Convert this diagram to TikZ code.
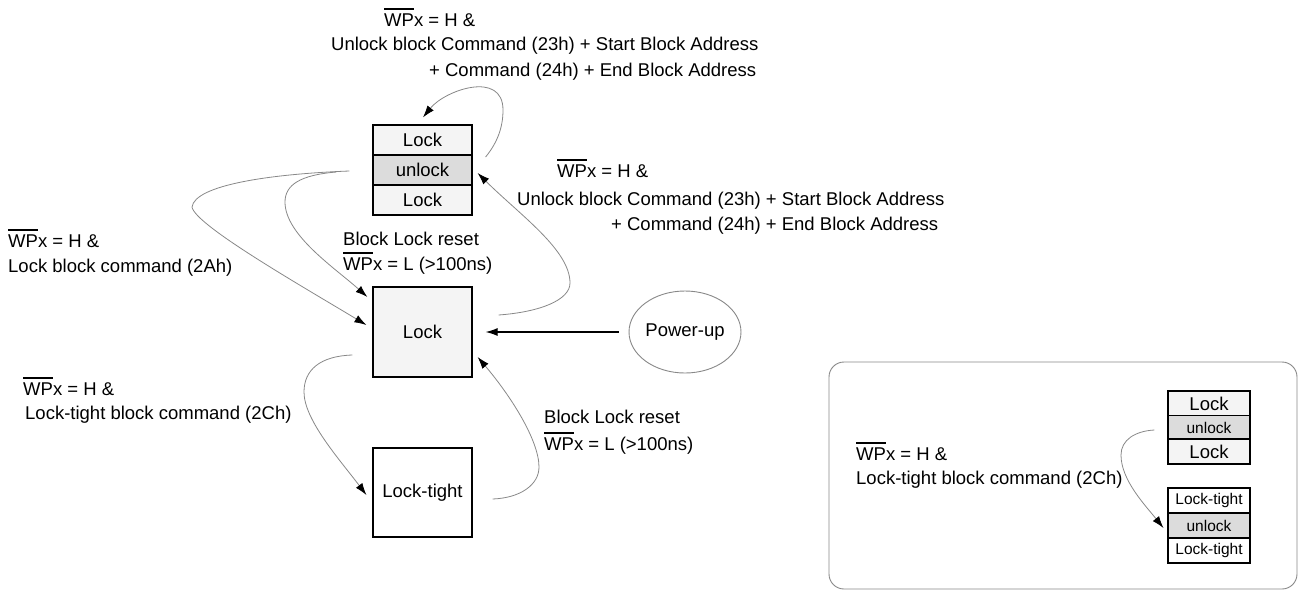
\documentclass[tikz,border=0pt]{standalone}
\usepackage{fontspec}
\setmainfont{Liberation Sans}
\usetikzlibrary{arrows.meta,calc,shapes.geometric}
\newcommand\fs{\fontsize{18.5}{22}\selectfont}
\newcommand\fss{\fontsize{15.5}{18}\selectfont}
\newcommand\wpbar{\setbox0\hbox{WP}\rlap{\rule[\dimexpr\ht0+3.5pt\relax]{\wd0}{1.5pt}}\box0{}x}
\definecolor{lockfill}{HTML}{F4F4F4}
\definecolor{unlockfill}{HTML}{DCDCDC}
\definecolor{curve}{HTML}{888888}
\tikzset{
  cell/.style={draw=black, line width=1.2pt, minimum width=99pt, minimum height=30pt, inner sep=0pt, font=\fs},
  scell/.style={draw=black, line width=1.1pt, minimum width=82pt, inner sep=0pt},
  lbl/.style={anchor=base west, inner sep=0pt, font=\fs},
  conn/.style={draw=curve, line width=0.8pt, -{Latex[length=12pt,width=8pt,color=black]}},
}
\begin{document}
\begin{tikzpicture}[x=1pt,y=-1pt]
\useasboundingbox (0,0) rectangle (1299,590);
% top stack
\node[cell, fill=lockfill] (ua) at (422.5,140) {Lock};
\node[cell, fill=unlockfill] (ub) at (422.5,170) {unlock};
\node[cell, fill=lockfill] (uc) at (422.5,200) {Lock};
% main states
\node[cell, fill=lockfill, minimum height=90pt] (lk) at (422.5,332) {Lock};
\node[cell, fill=white, minimum height=89pt] (lt) at (422.5,492.5) {Lock-tight};
\node[draw=curve, line width=0.9pt, ellipse, minimum width=108pt, minimum height=82pt, inner sep=0pt, font=\fs] (pu) at (685,332) {Power-up};
% labels
\node[lbl] (t1) at (384,26) {\wpbar{} = H \&};
\node[lbl] (t2) at (331,50) {Unlock block Command (23h) + Start Block Address};
\node[lbl] (t3) at (429,76) {+ Command (24h) + End Block Address};
\node[lbl] (m1) at (557,177) {\wpbar{} = H \&};
\node[lbl] (m2) at (517,205) {Unlock block Command (23h) + Start Block Address};
\node[lbl] (m3) at (611,230) {+ Command (24h) + End Block Address};
\node[lbl] (l1) at (8,247) {\wpbar{} = H \&};
\node[lbl] (l2) at (8,272) {Lock block command (2Ah)};
\node[lbl] (r1) at (343,245) {Block Lock reset};
\node[lbl] (r2) at (343,270) {\wpbar{} = L (>100ns)};
\node[lbl] (k1) at (23,395) {\wpbar{} = H \&};
\node[lbl] (k2) at (25,419) {Lock-tight block command (2Ch)};
\node[lbl] (b1) at (544,423) {Block Lock reset};
\node[lbl] (b2) at (544,450) {\wpbar{} = L (>100ns)};
% frame
\draw[draw=curve, line width=0.9pt, rounded corners=15pt] (829,362) rectangle (1297,589);
\node[lbl] (f1) at (856,460) {\wpbar{} = H \&};
\node[lbl] (f2) at (856,484) {Lock-tight block command (2Ch)};
\node[scell, fill=lockfill, minimum height=25pt, font=\fs] (fa) at (1209,403.5) {Lock};
\node[scell, fill=unlockfill, minimum height=24pt, font=\fss] (fb) at (1209,427.5) {unlock};
\node[scell, fill=lockfill, minimum height=25pt, font=\fs] (fc) at (1209,451.5) {Lock};
\node[scell, fill=white, minimum height=25pt, font=\fss] (ga) at (1209,500.5) {Lock-tight};
\node[scell, fill=unlockfill, minimum height=25pt, font=\fss] (gb) at (1209,525.5) {unlock};
\node[scell, fill=white, minimum height=25pt, font=\fss] (gc) at (1209,550.5) {Lock-tight};
% connectors
\draw[conn] ($(ub.east)+(13,-13)$) .. controls (497,143) and (503,128) .. (503,110)
   .. controls (503,70) and (445,90) .. ($(ua.north)+(0.5,-7)$);
\draw[conn] ($(lk.east)+(26,-17)$) .. controls (540,312) and (570,300) .. (570,283)
   .. controls (570,250) and (520,215) .. ($(ub.east)+(5,3)$);
\draw[conn] ($(ub.west)+(-36,2)$) .. controls (300,175) and (285,185) .. (285,202)
   .. controls (285,235) and (335,268) .. ($(lk.west)+(-5,-35)$);
\draw[conn] ($(ub.west)+(-23,1)$) .. controls (270,174) and (195,185) .. (192,207)
   .. controls (195,225) and (300,285) .. ($(lk.west)+(-6,-7)$);
\draw[conn] ($(lk.west)+(-20,23)$) .. controls (320,356) and (304,370) .. (304,392)
   .. controls (304,420) and (340,460) .. ($(lt.west)+(-6,2.5)$);
\draw[conn] ($(lt.east)+(20,6.5)$) .. controls (520,498) and (539,485) .. (539,467)
   .. controls (539,440) and (510,395) .. ($(lk.east)+(5,25)$);
\draw[conn] ($(fb.west)+(-13,2.5)$) .. controls (1135,431) and (1121,440) .. (1121,455)
   .. controls (1121,480) and (1145,505) .. ($(gb.west)+(-4,2.5)$);
\draw[line width=1.1pt, -{Latex[length=12pt,width=8pt]}] ($(pu.west)+(-10,0)$) -- ($(lk.east)+(13,0)$);
\end{tikzpicture}
\end{document}
